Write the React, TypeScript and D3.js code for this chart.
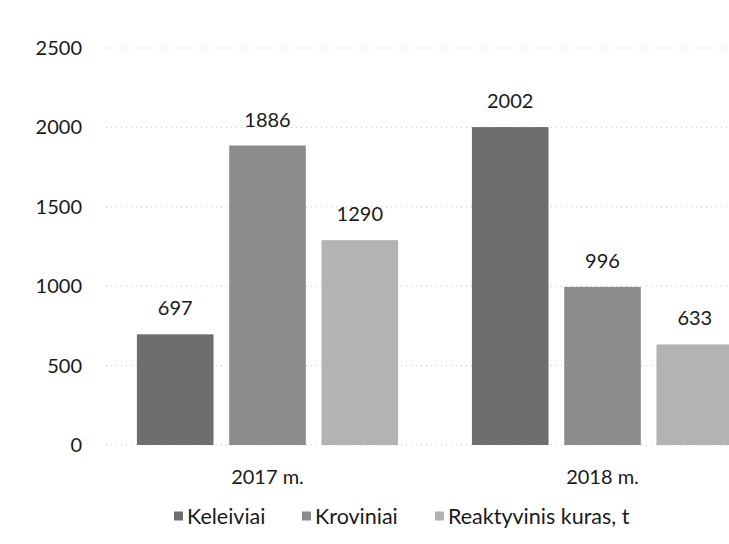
import React from 'react';
import * as d3 from 'd3';

// Data
const years = ['2017 m.', '2018 m.'];
const seriesNames = ['Keleiviai', 'Kroviniai', 'Reaktyvinis kuras, t'];
const keleiviai = [697, 2002];
const kroviniai = [1886, 996];
const kuras = [1290, 633];
const yTicks = [0, 500, 1000, 1500, 2000, 2500];

const colors = ['#6e6e6e', '#8c8c8c', '#b3b3b3'];
const legendX = [174, 302, 435];

const W = 729;
const H = 544;
const FONT = 'Lato, "Open Sans", sans-serif';

export default function App() {
  const values = [keleiviai, kroviniai, kuras];

  const x0 = d3.scaleBand<string>().domain(years).range([100, 770]);
  const x1 = d3
    .scaleBand<string>()
    .domain(seriesNames)
    .range([0, x0.bandwidth()])
    .paddingInner(0.17)
    .paddingOuter(0.4);
  const y = d3.scaleLinear().domain([0, 2500]).range([445, 48]);

  return (
    <div style={{ position: 'absolute', left: 0, top: 0 }}>
      <svg width={W} height={H} style={{ display: 'block', background: '#fff' }}>
        {/* gridlines + y labels */}
        {yTicks.map((t) => (
          <g key={t}>
            <line
              x1={106}
              x2={W}
              y1={y(t)}
              y2={y(t)}
              stroke="#c4c4c4"
              strokeWidth={1}
              strokeDasharray="1,4"
            />
            <text
              x={82}
              y={y(t)}
              dy="0.35em"
              textAnchor="end"
              fontFamily={FONT}
              fontSize={20}
              fill="#1a1a1a"
            >
              {t}
            </text>
          </g>
        ))}

        {/* bars */}
        {years.map((yr, i) => (
          <g key={yr} transform={`translate(${x0(yr)},0)`}>
            {seriesNames.map((s, j) => {
              const v = values[j][i];
              const bx = x1(s)!;
              return (
                <g key={s}>
                  <rect
                    x={bx}
                    y={y(v)}
                    width={x1.bandwidth()}
                    height={y(0) - y(v)}
                    fill={colors[j]}
                  />
                  <text
                    x={bx + x1.bandwidth() / 2}
                    y={y(v) - 19}
                    textAnchor="middle"
                    fontFamily={FONT}
                    fontSize={20}
                    fill="#1a1a1a"
                  >
                    {v}
                  </text>
                </g>
              );
            })}
            <text
              x={x0.bandwidth() / 2}
              y={484}
              textAnchor="middle"
              fontFamily={FONT}
              fontSize={20}
              fill="#1a1a1a"
            >
              {yr}
            </text>
          </g>
        ))}

        {/* legend */}
        {seriesNames.map((s, j) => (
          <g key={s} transform={`translate(${legendX[j]},516)`}>
            <rect x={0} y={-4.5} width={9} height={9} fill={colors[j]} />
            <text x={13} y={0} dy="0.35em" fontFamily={FONT} fontSize={21.5} fill="#1a1a1a">
              {s}
            </text>
          </g>
        ))}
      </svg>
    </div>
  );
}
